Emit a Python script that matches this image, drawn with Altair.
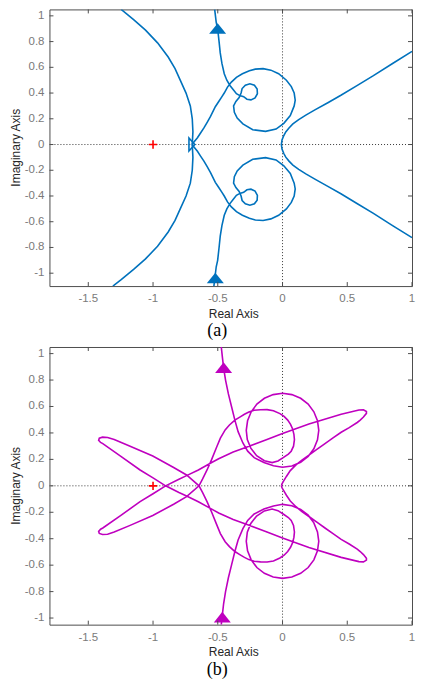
import altair as alt
import pandas as pd

# ---------------- data ----------------
X_DOMAIN = [-1.8, 1.0]
A_Y_DOMAIN = [-1.1, 1.05]
B_Y_DOMAIN = [-1.05, 1.05]
X_TICKS = [-1.5, -1, -0.5, 0, 0.5, 1]
Y_TICKS = [-1, -0.8, -0.6, -0.4, -0.2, 0, 0.2, 0.4, 0.6, 0.8, 1]
CRIT_X = [-1.0]
CRIT_Y = [0.0]

# (a) left arc
A_ARC_X = [-1.246, -1.15, -1.058, -0.965, -0.883, -0.83, -0.79, -0.745, -0.712, -0.697, -0.692, -0.697,
           -0.692, -0.697, -0.712, -0.745, -0.79, -0.83, -0.883, -0.965, -1.058, -1.15, -1.246, -1.31]
A_ARC_Y = [1.05, 0.97, 0.889, 0.79, 0.68, 0.59, 0.50, 0.40, 0.30, 0.20, 0.10, 0.0,
           -0.10, -0.20, -0.30, -0.40, -0.50, -0.59, -0.68, -0.79, -0.889, -0.97, -1.05, -1.10]
# (a) right branch
A_RIGHT_X = [1.0, 0.85, 0.702, 0.575, 0.451, 0.35, 0.25, 0.18, 0.125, 0.08, 0.05, 0.025, 0.01, -0.004,
             -0.009, -0.004, 0.01, 0.025, 0.05, 0.08, 0.125, 0.18, 0.25, 0.35, 0.451, 0.575, 0.702, 0.85, 1.0]
A_RIGHT_Y = [0.724, 0.63, 0.535, 0.458, 0.383, 0.325, 0.269, 0.228, 0.193, 0.16, 0.129, 0.098, 0.07, 0.035,
             0.0, -0.035, -0.07, -0.098, -0.129, -0.16, -0.193, -0.228, -0.269, -0.325, -0.383, -0.458, -0.535, -0.63, -0.724]
# (a) upper spiral branch
A_UP_X = [-0.524, -0.512, -0.501, -0.49, -0.481, -0.468, -0.45, -0.43, -0.406, -0.38, -0.356, -0.33, -0.30,
          -0.275, -0.244, -0.212, -0.194, -0.196, -0.217, -0.252, -0.287, -0.312, -0.32, -0.335, -0.36, -0.378,
          -0.372, -0.35, -0.306, -0.23, -0.131, -0.05, 0.01, 0.06, 0.09, 0.098, 0.09, 0.068, 0.03, -0.03, -0.09,
          -0.15, -0.21, -0.256, -0.31, -0.356, -0.395, -0.425, -0.45, -0.469, -0.495, -0.519, -0.556, -0.583,
          -0.607, -0.633, -0.657, -0.70]
A_UP_Y = [1.05, 0.95, 0.90, 0.80, 0.712, 0.63, 0.55, 0.50, 0.459, 0.425, 0.395, 0.38, 0.372,
          0.352, 0.347, 0.362, 0.395, 0.432, 0.461, 0.472, 0.461, 0.435, 0.40, 0.365, 0.335, 0.30,
          0.25, 0.205, 0.16, 0.115, 0.102, 0.12, 0.165, 0.225, 0.30, 0.345, 0.40, 0.45, 0.50, 0.55, 0.578,
          0.59, 0.586, 0.573, 0.55, 0.522, 0.485, 0.446, 0.40, 0.37, 0.33, 0.294, 0.218, 0.17,
          0.129, 0.09, 0.053, 0.0]
# (a) lower spiral branch
A_LOW_X = [-0.53, -0.524, -0.512, -0.501, -0.49, -0.481, -0.468, -0.45, -0.43, -0.406, -0.38, -0.356, -0.33, -0.30,
           -0.275, -0.244, -0.212, -0.194, -0.196, -0.217, -0.252, -0.287, -0.312, -0.32, -0.335, -0.36, -0.378,
           -0.372, -0.35, -0.306, -0.23, -0.131, -0.05, 0.01, 0.06, 0.09, 0.098, 0.09, 0.068, 0.03, -0.03, -0.09,
           -0.15, -0.21, -0.256, -0.31, -0.356, -0.395, -0.425, -0.45, -0.469, -0.495, -0.519, -0.556, -0.583,
           -0.607, -0.633, -0.657, -0.70]
A_LOW_Y = [-1.10, -1.05, -0.95, -0.90, -0.80, -0.712, -0.63, -0.55, -0.50, -0.459, -0.425, -0.395, -0.38, -0.372,
           -0.352, -0.347, -0.362, -0.395, -0.432, -0.461, -0.472, -0.461, -0.435, -0.40, -0.365, -0.335, -0.30,
           -0.25, -0.205, -0.16, -0.115, -0.102, -0.12, -0.165, -0.225, -0.30, -0.345, -0.40, -0.45, -0.50, -0.55, -0.578,
           -0.59, -0.586, -0.573, -0.55, -0.522, -0.485, -0.446, -0.40, -0.37, -0.33, -0.294, -0.218, -0.17,
           -0.129, -0.09, -0.053, 0.0]
A_ARROW_X = [-0.501, -0.519]
A_ARROW_Y = [0.902, -1.038]
A_TRI_X = [-0.70]
A_TRI_Y = [0.0]

# (b) upper half path
B_UP_X = [-0.473, -0.464, -0.455, -0.44, -0.418, -0.393, -0.368, -0.343, -0.306, -0.269, -0.219, -0.144, -0.07,
          0.0, 0.072, 0.14, 0.198, 0.242, 0.27, 0.28, 0.27, 0.242, 0.198, 0.14, 0.072, 0.0, -0.072, -0.14, -0.198,
          -0.242, -0.27, -0.28, -0.272, -0.245, -0.2, -0.14, -0.08,
          -0.035, 0.005, 0.045, 0.067, 0.085, 0.092, 0.088, 0.078, 0.062, 0.04, 0.012, -0.02, -0.07, -0.119, -0.17, -0.219,
          -0.26, -0.294, -0.33, -0.368, -0.41, -0.443, -0.48, -0.51, -0.547, -0.583, -0.617, -0.645,
          -0.741, -0.841, -1.002, -1.177, -1.30, -1.351, -1.39, -1.415, -1.42, -1.405, -1.388,
          -1.251, -1.10, -1.0, -0.903, -0.80, -0.741, -0.65, -0.547, -0.493, -0.381, -0.269, -0.12, 0.0, 0.204, 0.453, 0.59,
          0.625, 0.648, 0.648, 0.625, 0.60, 0.577, 0.515, 0.453, 0.39, 0.328, 0.265, 0.204, 0.15, 0.104, 0.06, 0.03,
          0.008, -0.004, -0.008]
B_UP_Y = [1.05, 0.97, 0.892, 0.80, 0.695, 0.596, 0.497, 0.41, 0.324, 0.262, 0.213, 0.176, 0.152,
          0.14, 0.15, 0.178, 0.222, 0.28, 0.348, 0.42, 0.492, 0.56, 0.618, 0.662, 0.69, 0.70, 0.69, 0.662, 0.618,
          0.56, 0.492, 0.42, 0.35, 0.285, 0.228, 0.19, 0.176,
          0.188, 0.213, 0.24, 0.262, 0.30, 0.349, 0.39, 0.43, 0.465, 0.497, 0.525, 0.546, 0.568, 0.576, 0.575, 0.571,
          0.558, 0.541, 0.52, 0.497, 0.46, 0.423, 0.361, 0.29, 0.2, 0.12, 0.052, 0.0,
          -0.082, -0.139, -0.225, -0.299, -0.35, -0.366, -0.368, -0.36, -0.345, -0.328, -0.319,
          -0.225, -0.12, -0.06, 0.0, 0.05, 0.077, 0.12, 0.176, 0.205, 0.255, 0.295, 0.35, 0.395, 0.467, 0.541, 0.573,
          0.575, 0.562, 0.548, 0.52, 0.497, 0.479, 0.44, 0.405, 0.362, 0.319, 0.275, 0.232, 0.195, 0.158, 0.115, 0.071,
          0.035, 0.015, 0.0]
# (b) lower half path
B_LOW_X = [-0.473, -0.464, -0.455, -0.44, -0.418, -0.393, -0.368, -0.343, -0.306, -0.269, -0.219, -0.144, -0.07,
           0.0, 0.072, 0.14, 0.198, 0.242, 0.27, 0.28, 0.27, 0.242, 0.198, 0.14, 0.072, 0.0, -0.072, -0.14, -0.198,
           -0.242, -0.27, -0.28, -0.272, -0.245, -0.2, -0.14, -0.08,
           -0.035, 0.005, 0.045, 0.067, 0.085, 0.092, 0.088, 0.078, 0.062, 0.04, 0.012, -0.02, -0.07, -0.119, -0.17, -0.219,
           -0.26, -0.294, -0.33, -0.368, -0.41, -0.443, -0.48, -0.51, -0.547, -0.583, -0.617, -0.645,
           -0.741, -0.841, -1.002, -1.177, -1.30, -1.351, -1.39, -1.415, -1.42, -1.405, -1.388,
           -1.251, -1.10, -1.0, -0.903, -0.80, -0.741, -0.65, -0.547, -0.493, -0.381, -0.269, -0.12, 0.0, 0.204, 0.453, 0.59,
           0.625, 0.648, 0.648, 0.625, 0.60, 0.577, 0.515, 0.453, 0.39, 0.328, 0.265, 0.204, 0.15, 0.104, 0.06, 0.03,
           0.008, -0.004, -0.008]
B_LOW_Y = [-1.05, -0.97, -0.892, -0.80, -0.695, -0.596, -0.497, -0.41, -0.324, -0.262, -0.213, -0.176, -0.152,
           -0.14, -0.15, -0.178, -0.222, -0.28, -0.348, -0.42, -0.492, -0.56, -0.618, -0.662, -0.69, -0.70, -0.69, -0.662, -0.618,
           -0.56, -0.492, -0.42, -0.35, -0.285, -0.228, -0.19, -0.176,
           -0.188, -0.213, -0.24, -0.262, -0.30, -0.349, -0.39, -0.43, -0.465, -0.497, -0.525, -0.546, -0.568, -0.576, -0.575, -0.571,
           -0.558, -0.541, -0.52, -0.497, -0.46, -0.423, -0.361, -0.29, -0.2, -0.12, -0.052, 0.0,
           0.082, 0.139, 0.225, 0.299, 0.35, 0.366, 0.368, 0.36, 0.345, 0.328, 0.319,
           0.225, 0.12, 0.06, 0.0, -0.05, -0.077, -0.12, -0.176, -0.205, -0.255, -0.295, -0.35, -0.395, -0.467, -0.541, -0.573,
           -0.575, -0.562, -0.548, -0.52, -0.497, -0.479, -0.44, -0.405, -0.362, -0.319, -0.275, -0.232, -0.195, -0.158, -0.115, -0.071,
           -0.035, -0.015, 0.0]
B_ARROW_X = [-0.455, -0.465]
B_ARROW_Y = [0.894, -0.993]

X_TITLE = "Real Axis"
Y_TITLE = "Imaginary Axis"

# ---------------- styling ----------------
W = 363
H_A = 277
H_B = 278
BLUE = "#0072BD"
MAGENTA = "#BF00BF"
FRAME = "#4d4d4d"
TICK_LABEL = "#7a7a7a"
TITLE_COLOR = "#262626"
SANS = "Liberation Sans"
ARROW = "M0,-0.62L1,0.62L-1,0.62Z"
OPEN_TRI = "M-0.45,-1L0.45,0L-0.45,1Z"
PLUS = "M-1,0L1,0M0,-1L0,1"


def lines_df(series):
    rows = []
    for name, xs, ys in series:
        assert len(xs) == len(ys), (name, len(xs), len(ys))
        for i, (x, y) in enumerate(zip(xs, ys)):
            rows.append({"seg": name, "i": i, "x": x, "y": y})
    return pd.DataFrame(rows)


def panel(series, color, ydom, H, arrow_x, arrow_y, label, tri=None):
    xs = alt.Scale(domain=X_DOMAIN, nice=False, zero=False)
    ys = alt.Scale(domain=ydom, nice=False, zero=False)

    def X(f):
        return alt.X(f, scale=xs, axis=None)

    def Y(f):
        return alt.Y(f, scale=ys, axis=None)

    zero_df = pd.DataFrame({"v": [0.0]})
    zero_v = alt.Chart(zero_df).mark_rule(color="#3a3a3a", strokeDash=[1, 2], strokeWidth=1).encode(x=X("v:Q"))
    zero_h = alt.Chart(zero_df).mark_rule(color="#3a3a3a", strokeDash=[1, 2], strokeWidth=1).encode(y=Y("v:Q"))

    curve = alt.Chart(lines_df(series)).mark_line(color=color, strokeWidth=1.6, clip=True).encode(
        x=X("x:Q"), y=Y("y:Q"), detail="seg:N", order="i:Q")

    arrows = alt.Chart(pd.DataFrame({"x": arrow_x, "y": arrow_y})).mark_point(
        shape=ARROW, filled=True, size=289, color=color, opacity=1, strokeWidth=0).encode(x=X("x:Q"), y=Y("y:Q"))

    crit = alt.Chart(pd.DataFrame({"x": CRIT_X, "y": CRIT_Y})).mark_point(
        shape=PLUS, filled=False, size=70, color="#FF0000", opacity=1, strokeWidth=1.6).encode(x=X("x:Q"), y=Y("y:Q"))

    xt = pd.DataFrame({"v": X_TICKS, "t": [f"{v:g}" for v in X_TICKS]})
    yt = pd.DataFrame({"v": Y_TICKS, "t": [f"{v:g}" for v in Y_TICKS]})
    tick_style = dict(color=FRAME, strokeWidth=1)
    t_bottom = alt.Chart(xt).mark_rule(**tick_style).encode(x=X("v:Q"), y=alt.value(H), y2=alt.value(H - 4))
    t_top = alt.Chart(xt).mark_rule(**tick_style).encode(x=X("v:Q"), y=alt.value(0), y2=alt.value(4))
    t_left = alt.Chart(yt).mark_rule(**tick_style).encode(y=Y("v:Q"), x=alt.value(0), x2=alt.value(4))
    t_right = alt.Chart(yt).mark_rule(**tick_style).encode(y=Y("v:Q"), x=alt.value(W), x2=alt.value(W - 4))

    x_labels = alt.Chart(xt).mark_text(font=SANS, fontSize=11.5, color=TICK_LABEL, align="center",
                                       baseline="middle").encode(x=X("v:Q"), y=alt.value(H + 13), text="t:N")
    y_labels = alt.Chart(yt).mark_text(font=SANS, fontSize=11.5, color=TICK_LABEL, align="right",
                                       baseline="middle").encode(y=Y("v:Q"), x=alt.value(-5), text="t:N")
    x_title = alt.Chart(pd.DataFrame({"t": [X_TITLE]})).mark_text(
        font=SANS, fontSize=12, color=TITLE_COLOR, align="center", baseline="alphabetic").encode(
        text="t:N", x=alt.value(W / 2 + 3), y=alt.value(H + 31.5))
    y_title = alt.Chart(pd.DataFrame({"t": [Y_TITLE]})).mark_text(
        font=SANS, fontSize=12, color=TITLE_COLOR, align="center", baseline="alphabetic", angle=270).encode(
        text="t:N", x=alt.value(-29.5), y=alt.value(H / 2))

    cap = alt.Chart(pd.DataFrame({"t": [label]})).mark_text(
        font="Liberation Serif", fontSize=18, align="center", baseline="alphabetic", color="black").encode(
        text="t:N", x=alt.value(168), y=alt.value(H + 50))

    layers = [zero_v, zero_h, curve]
    if tri is not None:
        layers.append(alt.Chart(pd.DataFrame({"x": tri[0], "y": tri[1]})).mark_point(
            shape=OPEN_TRI, filled=False, size=169, color=color, opacity=1, strokeWidth=1.6).encode(
            x=X("x:Q"), y=Y("y:Q")))
    layers += [arrows, crit, t_bottom, t_top, t_left, t_right, x_labels, y_labels, x_title, y_title, cap]
    return alt.layer(*layers).properties(width=W, height=H)


chart_a = panel(
    [("arc", A_ARC_X, A_ARC_Y), ("right", A_RIGHT_X, A_RIGHT_Y),
     ("up", A_UP_X, A_UP_Y), ("low", A_LOW_X, A_LOW_Y)],
    BLUE, A_Y_DOMAIN, H_A, A_ARROW_X, A_ARROW_Y, "(a)", tri=(A_TRI_X, A_TRI_Y))

chart_b = panel(
    [("up", B_UP_X, B_UP_Y), ("low", B_LOW_X, B_LOW_Y)],
    MAGENTA, B_Y_DOMAIN, H_B, B_ARROW_X, B_ARROW_Y, "(b)")

chart = alt.vconcat(chart_a, chart_b, spacing=5).properties(
    padding={"left": 1.5, "top": 0, "right": 0, "bottom": 0},
    background="white",
).configure_view(stroke=FRAME, strokeWidth=1)

chart.save("out.html", embed_options={"renderer": "svg", "actions": False})
